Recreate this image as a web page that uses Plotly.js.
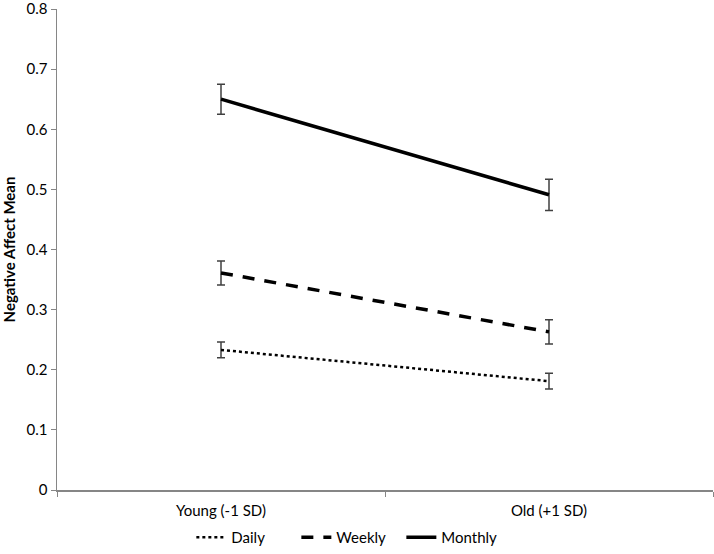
<!DOCTYPE html>
<html>
<head>
<meta charset="utf-8">
<script src="https://cdn.plot.ly/plotly-3.0.1.min.js"></script>
<style>html,body{margin:0;padding:0;background:#fff;}#chart{width:714px;height:554px;}</style>
</head>
<body>
<div id="chart"></div>
<script>
var categories = ["Young (-1 SD)", "Old (+1 SD)"];
var seriesNames = ["Daily", "Weekly", "Monthly"];
var daily = [0.233, 0.181];
var weekly = [0.361, 0.263];
var monthly = [0.650, 0.491];
var dailyErr = [0.013, 0.013];
var weeklyErr = [0.020, 0.020];
var monthlyErr = [0.025, 0.026];

var font = "Lato, Carlito, Calibri, 'Liberation Sans', Arial, sans-serif";

function trace(name, y, err, dash, width) {
  return {
    x: categories, y: y, name: name, type: "scatter", mode: "lines",
    line: {color: "#000000", width: width, dash: dash},
    error_y: {type: "data", array: err, visible: true, color: "#404040", thickness: 1.5, width: 4}
  };
}

var data = [
  trace(seriesNames[0], daily, dailyErr, "dot", 2.5),
  trace(seriesNames[1], weekly, weeklyErr, "12px,10px", 3.5),
  trace(seriesNames[2], monthly, monthlyErr, "solid", 3.5)
];

var layout = {
  width: 714, height: 554,
  margin: {l: 57, r: 1, t: 9, b: 64},
  paper_bgcolor: "#ffffff", plot_bgcolor: "#ffffff",
  font: {family: font, size: 15, color: "#000000"},
  showlegend: true,
  legend: {orientation: "h", x: 0.268, xanchor: "left", xref: "container", y: 0, yref: "container", yanchor: "bottom",
           font: {size: 15}, entrywidth: 60, entrywidthmode: "pixels"},
  xaxis: {
    type: "category", range: [-0.5, 1.5], showgrid: false, zeroline: false,
    showline: true, linecolor: "#868686", linewidth: 1.5,
    ticks: "outside", tickson: "boundaries", ticklen: 5, tickcolor: "#868686",
    tickfont: {size: 15}, ticklabelstandoff: 6
  },
  yaxis: {
    range: [0, 0.8], dtick: 0.1, tick0: 0, showgrid: false, zeroline: false,
    showline: true, linecolor: "#868686", linewidth: 1.5,
    ticks: "outside", ticklen: 5, tickcolor: "#868686",
    tickfont: {size: 15}, ticklabeloverflow: "allow",
    title: {text: "<b>Negative Affect Mean</b>", font: {size: 15}, standoff: 8}
  }
};

Plotly.newPlot("chart", data, layout, {displayModeBar: false, staticPlot: true});
</script>
</body>
</html>
